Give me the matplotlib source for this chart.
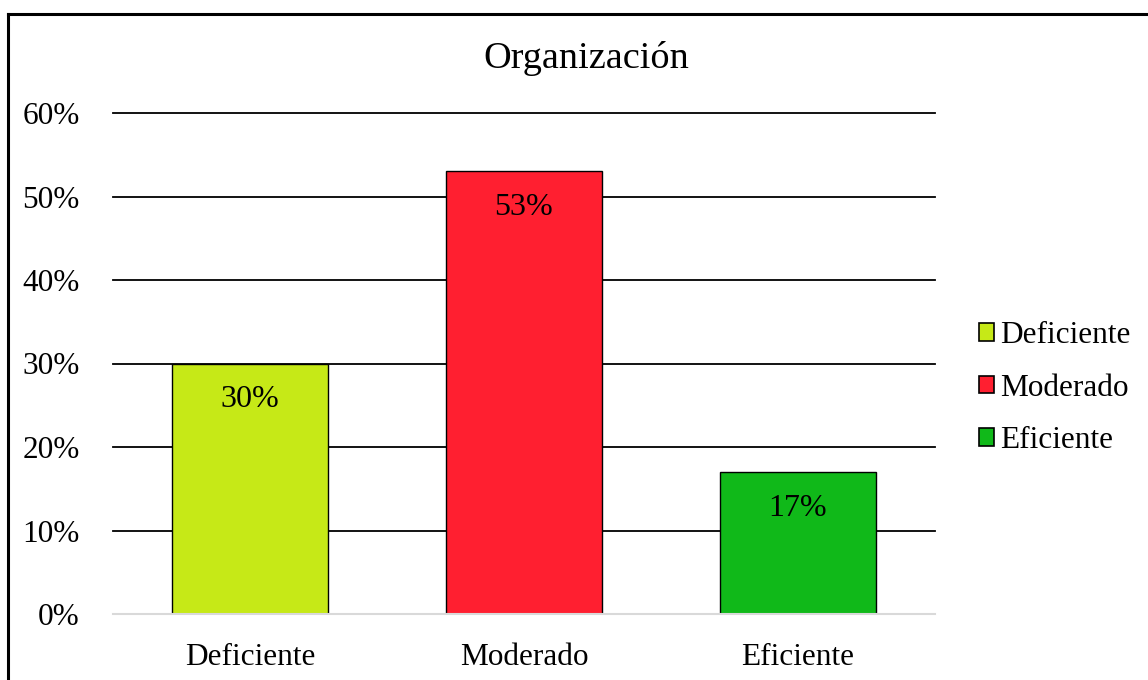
import matplotlib.pyplot as plt
from matplotlib.patches import Patch
from matplotlib.lines import Line2D
from matplotlib.ticker import PercentFormatter

# datos del gráfico
categorias = ["Deficiente", "Moderado", "Eficiente"]
valores = [0.30, 0.53, 0.17]
colores = ["#C6E917", "#FF1F30", "#10B919"]
ticks_y = [0.0, 0.1, 0.2, 0.3, 0.4, 0.5, 0.6]

plt.rcParams['font.family'] = ['Liberation Serif', 'DejaVu Serif']

fig = plt.figure(figsize=(11.48, 6.8), dpi=100)
ax = fig.add_axes([113 / 1148, 1 - 614 / 680, 822 / 1148, 501 / 680])

x = range(len(categorias))
ax.bar(x, valores, width=0.57, color=colores, edgecolor="black", linewidth=1.0, zorder=3)

# etiquetas de datos dentro de las barras
for xi, v in zip(x, valores):
    ax.annotate(f"{v * 100:.0f}%", (xi, v), xytext=(0, -26), textcoords="offset points",
                ha="center", va="center", fontsize=23, zorder=4)

ax.set_xlim(-0.5, len(categorias) - 0.5)
ax.set_ylim(0, 0.6)
ax.set_yticks(ticks_y)
ax.yaxis.set_major_formatter(PercentFormatter(1.0, decimals=0))
ax.set_xticks(list(x))
ax.set_xticklabels(categorias)
ax.tick_params(axis="both", length=0, labelsize=22.5)
ax.tick_params(axis="y", pad=24)
ax.tick_params(axis="x", pad=21)

ax.grid(axis="y", color="black", linewidth=1.3, zorder=0)
for linea in ax.get_ygridlines():
    linea.set_clip_on(False)
for lado in ["top", "right", "left"]:
    ax.spines[lado].set_visible(False)
ax.spines["bottom"].set_color("#D9D9D9")
ax.spines["bottom"].set_linewidth(1.5)
ax.spines["bottom"].set_zorder(4)

fig.text(586 / 1148, 1 - 59 / 680, "Organización", ha="center", va="center", fontsize=27.5)

manejadores = [Patch(facecolor=c, edgecolor="black", linewidth=1.2) for c in colores]
fig.legend(manejadores, categorias, loc="center left", bbox_to_anchor=(966 / 1148, 1 - 388 / 680),
           frameon=False, fontsize=22.5, handlelength=0.5, handleheight=0.5,
           handletextpad=0.2, labelspacing=0.75, borderaxespad=0)

# borde del gráfico (arriba e izquierda)
fig.add_artist(Line2D([8 / 1148, 8 / 1148], [0, 1 - 14 / 680], transform=fig.transFigure,
                      color="black", linewidth=2.2))
fig.add_artist(Line2D([8 / 1148, 1], [1 - 14 / 680, 1 - 14 / 680], transform=fig.transFigure,
                      color="black", linewidth=2.2))

fig.savefig("out.png", dpi=100)
